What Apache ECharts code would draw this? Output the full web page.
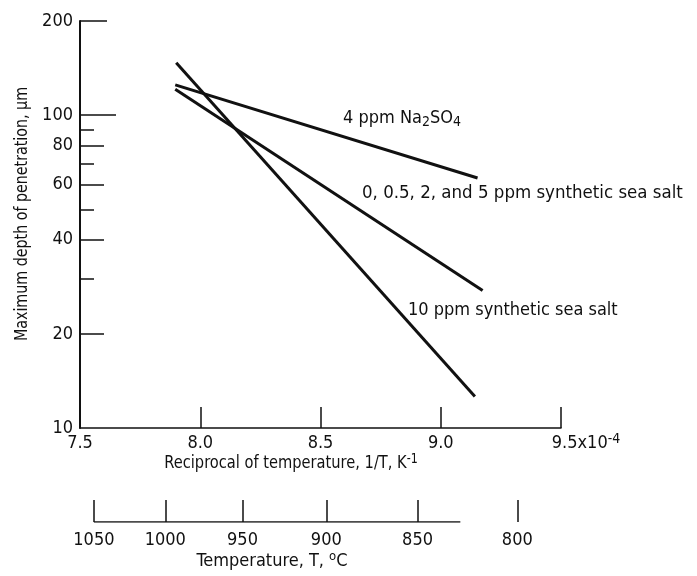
<!DOCTYPE html>
<html>
<head>
<meta charset="utf-8">
<script src="https://cdn.jsdelivr.net/npm/echarts@6/dist/echarts.min.js"></script>
<style>html,body{margin:0;padding:0;background:#fff;}#c{width:697px;height:576px;}</style>
</head>
<body>
<div id="c"></div>
<script>
// ---- data ----
var xTicks = [7.5, 8.0, 8.5, 9.0, 9.5];
var yLabelTicks = [10, 20, 40, 60, 80, 100, 200];
var yMidTicks = [20, 40, 60, 80];
var yLongTicks = [100];
var yTopTicks = [200];
var yMinorTicks = [30, 50, 70, 90];
var tempTicksC = [1050, 1000, 950, 900, 850, 800];
var tempLineC = [1050, 828];

var x10ppm = [7.90, 9.142];
var y10ppm = [147, 12.6];
var xNa2SO4 = [7.896, 9.153];
var yNa2SO4 = [125, 63];
var xSeaSalt = [7.896, 9.174];
var ySeaSalt = [121, 27.5];

function toRecip(c) { return 1e4 / (c + 273.15); }
function pairs(xs, ys) { return xs.map(function (x, i) { return [x, ys[i]]; }); }

var FONT = '"Liberation Sans Narrow", "DejaVu Sans Condensed", sans-serif';
var BLACK = '#111';

function yAx(ticks, len, showLine, labels) {
  return {
    type: 'log', logBase: 10, min: 10, max: 200, gridIndex: 0, position: 'left',
    axisLine: { show: showLine, lineStyle: { color: BLACK, width: 2 } },
    axisTick: { show: true, inside: true, length: len, customValues: ticks, lineStyle: { color: BLACK, width: 1.5 } },
    axisLabel: labels ? { show: true, customValues: labels, color: BLACK, fontFamily: FONT, fontSize: 18, margin: 7 } : { show: false },
    splitLine: { show: false }, minorTick: { show: false }
  };
}

var chart = echarts.init(document.getElementById('c'), null, { renderer: 'canvas' });
chart.setOption({
  animation: false,
  backgroundColor: '#fff',
  grid: [
    { left: 80, top: 21, width: 481, height: 407 },
    { left: 80, top: 480, width: 481, height: 42 }
  ],
  xAxis: [
    {
      type: 'value', gridIndex: 0, min: 7.5, max: 9.5, interval: 0.5,
      axisLine: { show: true, lineStyle: { color: BLACK, width: 1.5 } },
      axisTick: { show: true, inside: true, length: 21, lineStyle: { color: BLACK, width: 1.5 } },
      splitLine: { show: false },
      axisLabel: {
        color: BLACK, fontFamily: FONT, fontSize: 18, margin: 4,
        formatter: function (v) {
          if (Math.abs(v - 9.5) < 1e-6) return '{pad|}{a|9.5x10}{s|-4}';
          return '{a|' + v.toFixed(1) + '}';
        },
        rich: {
          a: { fontFamily: FONT, fontSize: 18, color: BLACK, lineHeight: 22 },
          s: { fontFamily: FONT, fontSize: 14, color: BLACK, verticalAlign: 'top', lineHeight: 14 },
          pad: { width: 50, lineHeight: 22 }
        }
      }
    },
    {
      type: 'value', gridIndex: 1, min: 7.5, max: 9.5,
      axisLine: { show: false },
      axisTick: { show: true, inside: true, length: 22, customValues: tempTicksC.map(toRecip), lineStyle: { color: BLACK, width: 1.5 } },
      splitLine: { show: false },
      axisLabel: {
        show: true, customValues: tempTicksC.map(toRecip), color: BLACK, fontFamily: FONT, fontSize: 18, margin: 9,
        formatter: function (v) { return String(Math.round(1e4 / v - 273.15)); }
      }
    }
  ],
  yAxis: [
    yAx(yMidTicks, 24, true, yLabelTicks),
    yAx(yLongTicks, 36, false, null),
    yAx(yTopTicks, 27, false, null),
    yAx(yMinorTicks, 14, false, null),
    { type: 'value', gridIndex: 1, min: 0, max: 1, show: false }
  ],
  series: [
    { type: 'line', xAxisIndex: 0, yAxisIndex: 0, data: pairs(x10ppm, y10ppm), symbol: 'none', lineStyle: { color: BLACK, width: 3 } },
    { type: 'line', xAxisIndex: 0, yAxisIndex: 0, data: pairs(xNa2SO4, yNa2SO4), symbol: 'none', lineStyle: { color: BLACK, width: 3 } },
    { type: 'line', xAxisIndex: 0, yAxisIndex: 0, data: pairs(xSeaSalt, ySeaSalt), symbol: 'none', lineStyle: { color: BLACK, width: 3 } },
    { type: 'line', xAxisIndex: 1, yAxisIndex: 4, data: tempLineC.map(function (c) { return [toRecip(c), 0]; }), symbol: 'none', lineStyle: { color: BLACK, width: 1.5 } }
  ],
  graphic: [
    {
      type: 'text', x: 22, y: 214, rotation: Math.PI / 2, scaleX: 0.88,
      style: { text: 'Maximum depth of penetration, μm', fontFamily: FONT, fontSize: 18, fill: BLACK, align: 'center', verticalAlign: 'middle' }
    },
    {
      type: 'text', x: 291, y: 463, scaleX: 0.88,
      style: {
        text: '{a|Reciprocal of temperature, 1/T, K}{s|-1}', align: 'center', verticalAlign: 'middle',
        rich: { a: { fontFamily: FONT, fontSize: 18.5, fill: BLACK, lineHeight: 22 }, s: { fontFamily: FONT, fontSize: 14, fill: BLACK, verticalAlign: 'top', lineHeight: 14 } }
      }
    },
    {
      type: 'text', x: 272, y: 561,
      style: {
        text: '{a|Temperature, T, }{s|o}{a|C}', align: 'center', verticalAlign: 'middle',
        rich: { a: { fontFamily: FONT, fontSize: 18, fill: BLACK, lineHeight: 22 }, s: { fontFamily: FONT, fontSize: 13, fill: BLACK, verticalAlign: 'top', lineHeight: 13 } }
      }
    },
    {
      type: 'text', x: 343, y: 118,
      style: {
        text: '{a|4 ppm Na}{b|2}{a|SO}{b|4}', align: 'left', verticalAlign: 'middle',
        rich: { a: { fontFamily: FONT, fontSize: 18, fill: BLACK }, b: { fontFamily: FONT, fontSize: 14, fill: BLACK, verticalAlign: 'bottom', padding: [8, 0, 0, 0] } }
      }
    },
    {
      type: 'text', x: 362, y: 193,
      style: { text: '0, 0.5, 2, and 5 ppm synthetic sea salt', fontFamily: FONT, fontSize: 18.5, fill: BLACK, align: 'left', verticalAlign: 'middle' }
    },
    {
      type: 'text', x: 408, y: 310,
      style: { text: '10 ppm synthetic sea salt', fontFamily: FONT, fontSize: 18, fill: BLACK, align: 'left', verticalAlign: 'middle' }
    }
  ]
});
</script>
</body>
</html>
